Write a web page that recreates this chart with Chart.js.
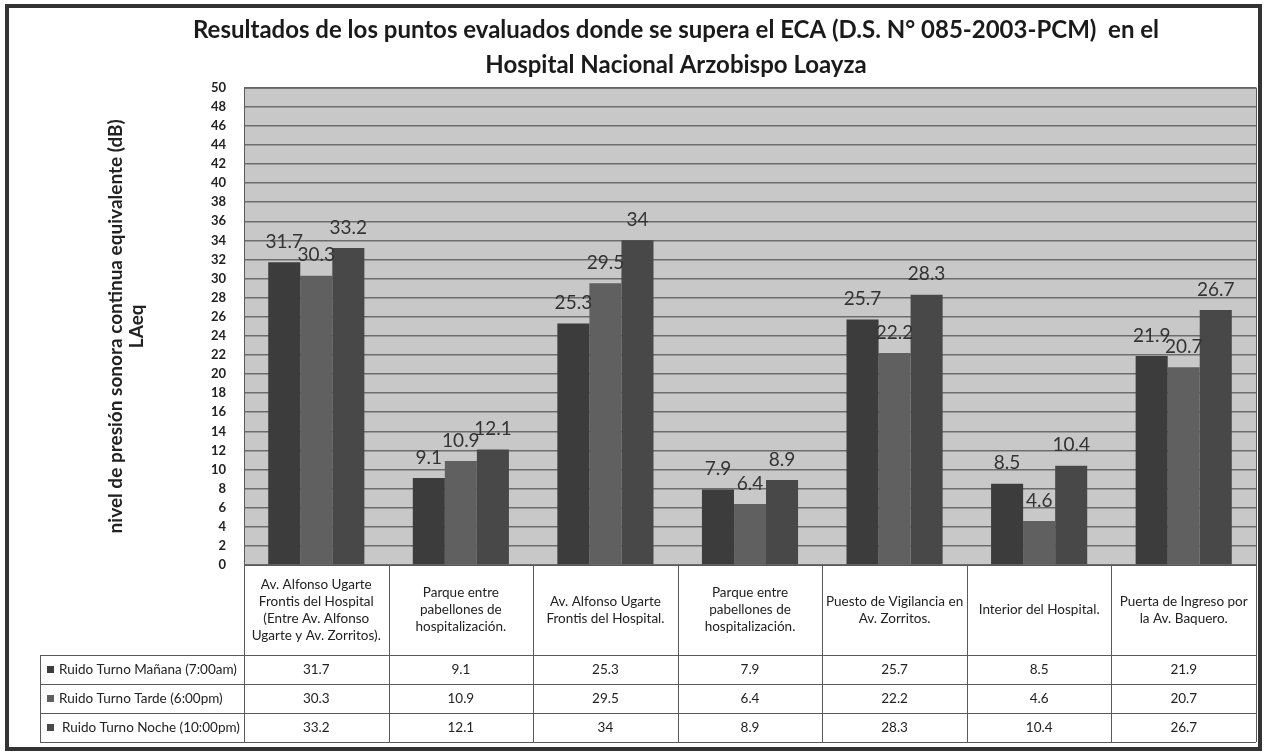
<!DOCTYPE html>
<html>
<head>
<meta charset="utf-8">
<script src="https://cdn.jsdelivr.net/npm/chart.js@4.4.0/dist/chart.umd.min.js"></script>
<style>
html, body { margin: 0; padding: 0; background: #fff; }
</style>
</head>
<body>
<canvas id="grafico" width="1266" height="754"></canvas>
<script>
// puntos evaluados (etiquetas de la tabla, con sus saltos de línea)
var puntos = [
    ['Av. Alfonso Ugarte', 'Frontis del Hospital', '(Entre Av. Alfonso', 'Ugarte y Av. Zorritos).'],
    ['Parque entre', 'pabellones de', 'hospitalización.'],
    ['Av. Alfonso Ugarte', 'Frontis del Hospital.'],
    ['Parque entre', 'pabellones de', 'hospitalización.'],
    ['Puesto de Vigilancia en', 'Av. Zorritos.'],
    ['Interior del Hospital.'],
    ['Puerta de Ingreso por', 'la Av. Baquero.']
]
var turnos = ['Ruido Turno Mañana (7:00am)', 'Ruido Turno Tarde (6:00pm)', 'Ruido Turno Noche (10:00pm)']
var manana = [31.7, 9.1, 25.3, 7.9, 25.7, 8.5, 21.9]
var tarde = [30.3, 10.9, 29.5, 6.4, 22.2, 4.6, 20.7]
var noche = [33.2, 12.1, 34, 8.9, 28.3, 10.4, 26.7]
var yMax = 50
var yPaso = 2

var colores = ['#3c3c3c', '#606060', '#484848']
var series = [manana, tarde, noche]

var titulo = ['Resultados de los puntos evaluados donde se supera el ECA (D.S. N° 085-2003-PCM)  en el',
              'Hospital Nacional Arzobispo Loayza']

// fondo gris del área de trazado
var fondo = {
    id: 'fondo',
    beforeDraw: (chart) => {
        var a = chart.chartArea
        var ctx = chart.ctx
        ctx.save()
        ctx.fillStyle = '#c8c8c8'
        ctx.fillRect(a.left, a.top, a.right - a.left, a.bottom - a.top)
        ctx.restore()
    }
}

// valores encima de cada barra
var etiquetas = {
    id: 'etiquetas',
    afterDatasetsDraw: (chart) => {
        var ctx = chart.ctx
        ctx.save()
        ctx.font = '19px Lato'
        ctx.fillStyle = '#333'
        ctx.textAlign = 'center'
        ctx.textBaseline = 'bottom'
        chart.data.datasets.forEach((ds, i) => {
            chart.getDatasetMeta(i).data.forEach((bar, j) => {
                ctx.fillText(String(ds.data[j]), bar.x, bar.y - 11)
            })
        })
        ctx.restore()
    }
}

// tabla de datos debajo del gráfico
var tabla = {
    id: 'tabla',
    afterDraw: (chart) => {
        var a = chart.chartArea
        var ctx = chart.ctx
        var n = puntos.length
        var w = (a.right - a.left) / n
        var top = a.bottom
        var cab = 90
        var fila = 29
        var izq = 40
        ctx.save()
        ctx.strokeStyle = '#5a5a5a'
        ctx.lineWidth = 1
        // borde del área de trazado
        ctx.strokeRect(a.left + 0.5, a.top + 0.5, a.right - a.left, a.bottom - a.top)
        // líneas verticales de la cabecera y filas
        for (var i = 0; i <= n; i++) {
            var x = Math.round(a.left + i * w) + 0.5
            ctx.beginPath()
            ctx.moveTo(x, top)
            ctx.lineTo(x, top + cab + 3 * fila)
            ctx.stroke()
        }
        ctx.beginPath()
        ctx.moveTo(izq + 0.5, top + cab)
        ctx.lineTo(izq + 0.5, top + cab + 3 * fila)
        ctx.stroke()
        for (var r = 0; r <= 3; r++) {
            var y = Math.round(top + cab + r * fila) + 0.5
            ctx.beginPath()
            ctx.moveTo(izq, y)
            ctx.lineTo(a.right, y)
            ctx.stroke()
        }
        ctx.fillStyle = '#222'
        ctx.font = '13.5px Lato'
        ctx.textAlign = 'center'
        ctx.textBaseline = 'middle'
        puntos.forEach((lineas, i) => {
            var cx = a.left + (i + 0.5) * w
            var lh = 17
            var y0 = top + cab / 2 - (lineas.length - 1) * lh / 2
            lineas.forEach((t, k) => ctx.fillText(t, cx, y0 + k * lh))
        })
        series.forEach((vals, r) => {
            var cy = top + cab + (r + 0.5) * fila
            vals.forEach((v, i) => {
                ctx.fillText(String(v), a.left + (i + 0.5) * w, cy)
            })
        })
        ctx.textAlign = 'left'
        turnos.forEach((t, r) => {
            var cy = top + cab + (r + 0.5) * fila
            ctx.fillStyle = colores[r]
            ctx.fillRect(47, Math.round(cy - 4), 7, 7)
            ctx.fillStyle = '#222'
            ctx.fillText(t, r == 2 ? 62 : 59, cy)
        })
        // marco exterior
        ctx.strokeStyle = '#333'
        ctx.lineWidth = 4
        ctx.strokeRect(7, 6, 1253, 743)
        ctx.restore()
    }
}

var ctx = document.getElementById('grafico').getContext('2d')

var datasets = series.map((vals, i) => ({
    label: turnos[i],
    data: vals,
    backgroundColor: colores[i],
    borderWidth: 0
}))

var grafico = new Chart(ctx, {
    type: 'bar',
    data: {
        labels: puntos,
        datasets: datasets
    },
    options: {
        responsive: false,
        animation: false,
        layout: {
            padding: { left: 96, right: 10, top: 0, bottom: 189 }
        },
        datasets: {
            bar: { categoryPercentage: 0.665, barPercentage: 1.0 }
        },
        plugins: {
            legend: { display: false },
            tooltip: { enabled: false },
            title: {
                display: true,
                text: titulo,
                color: '#1a1a1a',
                font: { family: 'Lato', size: 24, weight: 'bold', lineHeight: 1.45 },
                padding: { top: 13, bottom: 5 }
            }
        },
        scales: {
            x: { display: false },
            y: {
                min: 0,
                max: yMax,
                afterFit: (scale) => { scale.width = 148 },
                ticks: {
                    stepSize: yPaso,
                    padding: 18,
                    color: '#222',
                    font: { family: 'Lato', size: 13, weight: 'bold' }
                },
                grid: { color: '#6c6c6c', lineWidth: 1.5, drawTicks: false },
                border: { display: false },
                title: {
                    display: true,
                    text: ['nivel de presión sonora continua equivalente (dB)', 'LAeq'],
                    color: '#222',
                    font: { family: 'Lato', size: 19, weight: 'bold', lineHeight: 1.08 },
                    padding: { top: 10, bottom: 0 }
                }
            }
        }
    },
    plugins: [fondo, etiquetas, tabla]
})
</script>
</body>
</html>
